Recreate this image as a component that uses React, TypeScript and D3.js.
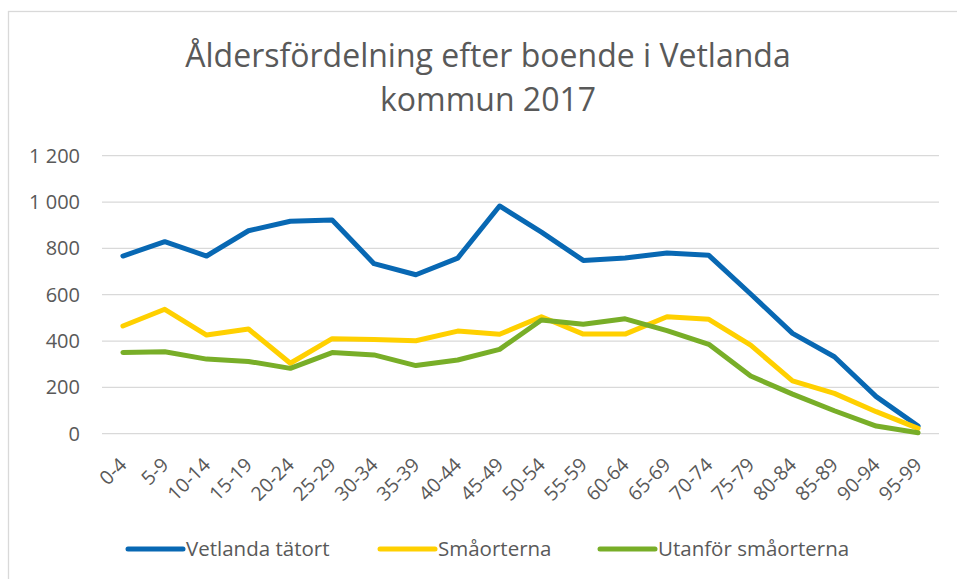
import React, { useEffect, useRef } from 'react';
import * as d3 from 'd3';

const ageGroups = [
  '0-4', '5-9', '10-14', '15-19', '20-24', '25-29', '30-34', '35-39', '40-44', '45-49',
  '50-54', '55-59', '60-64', '65-69', '70-74', '75-79', '80-84', '85-89', '90-94', '95-99',
];

const vetlandaTatort = [767, 829, 767, 876, 917, 922, 734, 686, 758, 983, 870, 748, 758, 780, 770, 603, 433, 332, 160, 33];
const smaorterna = [465, 537, 426, 452, 304, 410, 407, 401, 443, 429, 505, 430, 430, 505, 494, 382, 228, 174, 95, 23];
const utanforSmaorterna = [351, 354, 322, 312, 282, 350, 340, 294, 318, 364, 491, 472, 496, 445, 386, 249, 171, 99, 33, 4];

const seriesNames = ['Vetlanda tätort', 'Småorterna', 'Utanför småorterna'];
const seriesColors = ['#0868b3', '#ffd000', '#78ae28'];
const yTicks = [0, 200, 400, 600, 800, 1000, 1200];

const FONT = "'Open Sans', Carlito, Calibri, sans-serif";
const TEXT = '#595959';

const App = () => {
  const svgRef = useRef<SVGSVGElement>(null);

  useEffect(() => {
    if (!svgRef.current) return;
    const svg = d3.select(svgRef.current);
    svg.selectAll('*').remove();

    const width = 957;
    const height = 579;

    svg.append('rect')
      .attr('width', width)
      .attr('height', height)
      .attr('fill', '#fff');

    // chart border (cropped at right/bottom)
    svg.append('rect')
      .attr('x', 8.5)
      .attr('y', 11.5)
      .attr('width', 1000)
      .attr('height', 700)
      .attr('fill', 'none')
      .attr('stroke', '#d9d9d9')
      .attr('stroke-width', 1.3);

    const title = svg.append('text')
      .attr('text-anchor', 'middle')
      .attr('font-family', FONT)
      .attr('font-size', 32)
      .attr('fill', TEXT);
    title.append('tspan').attr('x', 488).attr('y', 67).text('Åldersfördelning efter boende i Vetlanda');
    title.append('tspan').attr('x', 488).attr('y', 111).text('kommun 2017');

    const x = d3.scaleBand()
      .domain(ageGroups)
      .range([102, 939]);

    const y = d3.scaleLinear()
      .domain([0, 1200])
      .range([433.7, 155.7]);

    // gridlines
    svg.append('g')
      .selectAll('line')
      .data(yTicks)
      .enter()
      .append('line')
      .attr('x1', 102)
      .attr('x2', 939)
      .attr('y1', d => y(d))
      .attr('y2', d => y(d))
      .attr('stroke', '#d9d9d9')
      .attr('stroke-width', 1.3);

    // y labels
    svg.append('g')
      .selectAll('text')
      .data(yTicks)
      .enter()
      .append('text')
      .attr('x', 80)
      .attr('y', d => y(d))
      .attr('dy', '0.35em')
      .attr('text-anchor', 'end')
      .attr('font-family', FONT)
      .attr('font-size', 20)
      .attr('fill', TEXT)
      .text(d => d3.format(',')(d).replace(',', ' '));

    // x labels
    svg.append('g')
      .selectAll('text')
      .data(ageGroups)
      .enter()
      .append('text')
      .attr('transform', d => `translate(${x(d)! + x.bandwidth() / 2 + 5},${466}) rotate(-45)`)
      .attr('text-anchor', 'end')
      .attr('font-family', FONT)
      .attr('font-size', 19.5)
      .attr('fill', TEXT)
      .text(d => d);

    const line = d3.line<number>()
      .x((_, i) => x(ageGroups[i])! + x.bandwidth() / 2)
      .y(d => y(d));

    [vetlandaTatort, smaorterna, utanforSmaorterna].forEach((vals, i) => {
      svg.append('path')
        .datum(vals)
        .attr('d', line)
        .attr('fill', 'none')
        .attr('stroke', seriesColors[i])
        .attr('stroke-width', 5)
        .attr('stroke-linejoin', 'round')
        .attr('stroke-linecap', 'round');
    });

    // legend
    const legendX = [128, 380, 600];
    seriesNames.forEach((name, i) => {
      const g = svg.append('g').attr('transform', `translate(${legendX[i]},549)`);
      g.append('line')
        .attr('x1', 0)
        .attr('x2', 55)
        .attr('stroke', seriesColors[i])
        .attr('stroke-width', 5)
        .attr('stroke-linecap', 'round');
      g.append('text')
        .attr('x', 58)
        .attr('dy', '0.35em')
        .attr('font-family', FONT)
        .attr('font-size', 20.5)
        .attr('fill', TEXT)
        .text(name);
    });
  }, []);

  return (
    <svg
      ref={svgRef}
      width={957}
      height={579}
      style={{ position: 'absolute', left: 0, top: 0 }}
    />
  );
};

export default App;
